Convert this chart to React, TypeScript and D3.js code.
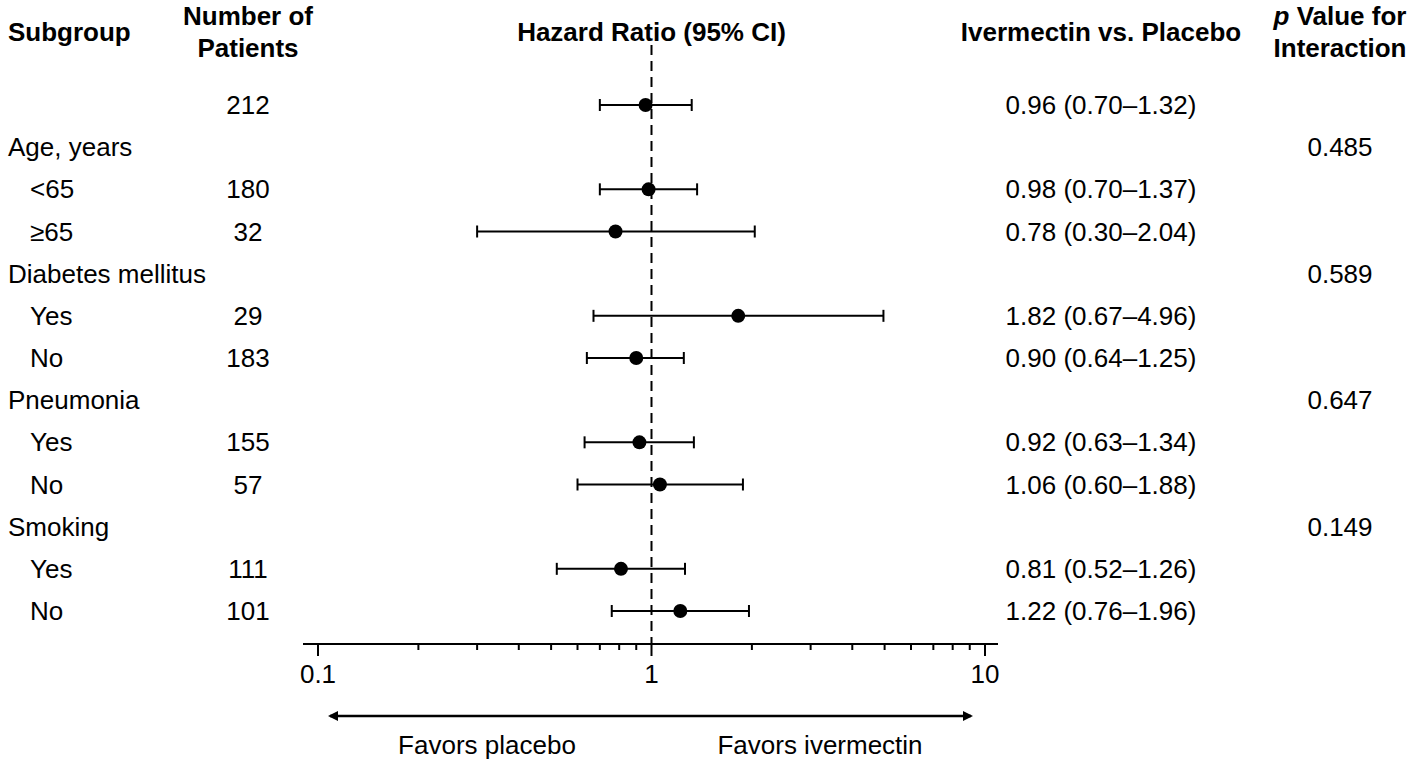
import React, { useEffect } from "react";
import * as d3 from "d3";

const W = 1418;
const H = 763;

// Row definitions
const rowLabels = [
  "", "Age, years", "<65", "≥65", "Diabetes mellitus", "Yes", "No",
  "Pneumonia", "Yes", "No", "Smoking", "Yes", "No",
];
const rowIsHeading = [false, true, false, false, true, false, false, true, false, false, true, false, false];
const patients = ["212", "", "180", "32", "", "29", "183", "", "155", "57", "", "111", "101"];
const hr: (number | null)[] = [0.96, null, 0.98, 0.78, null, 1.82, 0.90, null, 0.92, 1.06, null, 0.81, 1.22];
const lower: (number | null)[] = [0.70, null, 0.70, 0.30, null, 0.67, 0.64, null, 0.63, 0.60, null, 0.52, 0.76];
const upper: (number | null)[] = [1.32, null, 1.37, 2.04, null, 4.96, 1.25, null, 1.34, 1.88, null, 1.26, 1.96];
const hrText = [
  "0.96 (0.70–1.32)", "", "0.98 (0.70–1.37)", "0.78 (0.30–2.04)", "",
  "1.82 (0.67–4.96)", "0.90 (0.64–1.25)", "", "0.92 (0.63–1.34)",
  "1.06 (0.60–1.88)", "", "0.81 (0.52–1.26)", "1.22 (0.76–1.96)",
];
const pInteraction = ["", "0.485", "", "", "0.589", "", "", "0.647", "", "", "0.149", "", ""];
const axisDomain: [number, number] = [0.1, 10];
const majorTickLabels = ["0.1", "1", "10"];

const FONT = "'Liberation Sans', Arial, Helvetica, sans-serif";
const FS = 26;

export default function App() {
  useEffect(() => {
    document.body.style.margin = "0";
  }, []);

  const x = d3.scaleLog().domain(axisDomain).range([318, 985]);
  const y = d3.scalePoint<number>().domain(d3.range(rowLabels.length)).range([105, 611]);

  const axisY = 644;
  const ticks = x.ticks();
  const isMajor = (t: number) => Math.abs(Math.log10(t) - Math.round(Math.log10(t))) < 1e-9;

  const colSubX = 8;
  const colSubIndentX = 30;
  const colNX = 248;
  const colHRX = 1101;
  const colPX = 1340;

  const arrowY = 716;
  const arrowX0 = 326;
  const arrowX1 = 975;

  return (
    <svg
      width={W}
      height={H}
      style={{ display: "block", background: "#fff" }}
      fontFamily={FONT}
      fontSize={FS}
    >
      <defs>
        <marker id="ah" viewBox="0 0 10 10" refX="8" refY="5" markerWidth="4" markerHeight="4" orient="auto-start-reverse" markerUnits="strokeWidth">
          <path d="M0,0 L10,5 L0,10 z" fill="#000" />
        </marker>
      </defs>

      {/* Headers */}
      <g fontWeight="bold" fill="#000">
        <text x={colSubX} y={41}>Subgroup</text>
        <text x={colNX} y={25} textAnchor="middle">Number of</text>
        <text x={colNX} y={57} textAnchor="middle">Patients</text>
        <text x={x(1)} y={41} textAnchor="middle">Hazard Ratio (95% CI)</text>
        <text x={colHRX} y={41} textAnchor="middle">Ivermectin vs. Placebo</text>
        <text x={colPX} y={25} textAnchor="middle">
          <tspan fontStyle="italic">p</tspan> Value for
        </text>
        <text x={colPX} y={57} textAnchor="middle">Interaction</text>
      </g>

      {/* Reference line */}
      <line x1={x(1)} x2={x(1)} y1={45} y2={axisY} stroke="#000" strokeWidth={2} strokeDasharray="10,6" />

      {/* Rows */}
      {rowLabels.map((lab, i) => {
        const yy = y(i) as number;
        const h = hr[i];
        const lo = lower[i];
        const up = upper[i];
        return (
          <g key={i}>
            {lab && (
              <text x={rowIsHeading[i] ? colSubX : colSubIndentX} y={yy} dy="0.35em">{lab}</text>
            )}
            {patients[i] && (
              <text x={colNX} y={yy} dy="0.35em" textAnchor="middle">{patients[i]}</text>
            )}
            {h !== null && lo !== null && up !== null && (
              <g stroke="#000" strokeWidth={2}>
                <line x1={x(lo)} x2={x(up)} y1={yy} y2={yy} />
                <line x1={x(lo)} x2={x(lo)} y1={yy - 6} y2={yy + 6} />
                <line x1={x(up)} x2={x(up)} y1={yy - 6} y2={yy + 6} />
                <circle cx={x(h)} cy={yy} r={7} fill="#000" stroke="none" />
              </g>
            )}
            {hrText[i] && (
              <text x={colHRX} y={yy} dy="0.35em" textAnchor="middle">{hrText[i]}</text>
            )}
            {pInteraction[i] && (
              <text x={colPX} y={yy} dy="0.35em" textAnchor="middle">{pInteraction[i]}</text>
            )}
          </g>
        );
      })}

      {/* X axis */}
      <g stroke="#000" strokeWidth={2}>
        <line x1={x(axisDomain[0]) - 15} x2={x(axisDomain[1]) + 13} y1={axisY} y2={axisY} />
        {ticks.map((t, i) => (
          <line key={i} x1={x(t)} x2={x(t)} y1={axisY} y2={axisY + (isMajor(t) ? 12 : 6)} />
        ))}
      </g>
      {ticks.filter(isMajor).map((t, i) => (
        <text key={i} x={x(t)} y={683} textAnchor="middle">{majorTickLabels[i]}</text>
      ))}

      {/* Favors arrow */}
      <line
        x1={arrowX0 + 4}
        x2={arrowX1 - 4}
        y1={arrowY}
        y2={arrowY}
        stroke="#000"
        strokeWidth={2.5}
        markerStart="url(#ah)"
        markerEnd="url(#ah)"
      />
      <text x={487} y={754} textAnchor="middle">Favors placebo</text>
      <text x={820} y={754} textAnchor="middle">Favors ivermectin</text>
    </svg>
  );
}
